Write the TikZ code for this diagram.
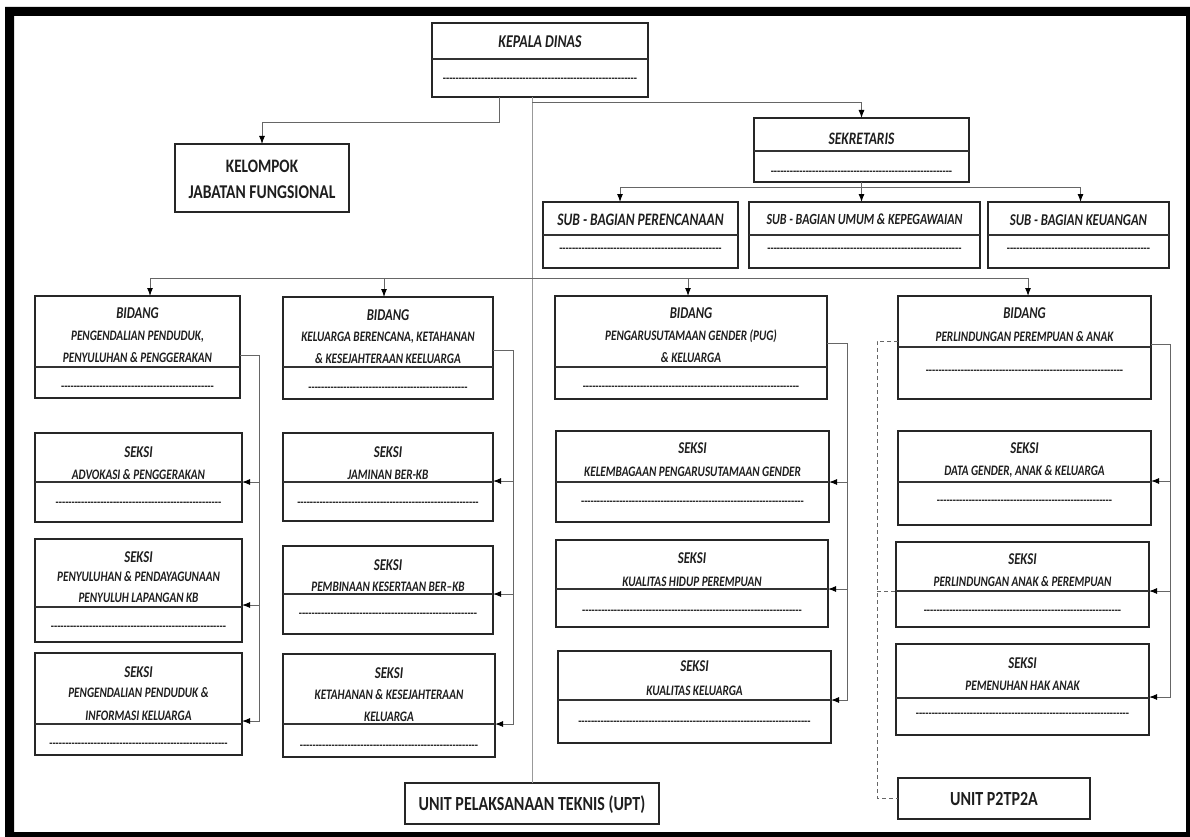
\documentclass[tikz,border=0pt]{standalone}
\usepackage{fontspec}
\usetikzlibrary{arrows.meta}
\newfontfamily\cf{Carlito}[FakeStretch=0.8]
\newfontfamily\cfi{Carlito}[FakeStretch=0.77]
\definecolor{txtc}{HTML}{1E1E1E}
\newcommand\drow[1]{\hbox to #1{\cleaders\hbox{-}\hfill}}
\newcommand\bx[5]{\node[box, minimum width={(#4-#2)*1pt}, minimum height={(#5-#3)*1pt}] (#1) at ({(#2+#4)/2},{(#3+#5)/2}) {};}
\newcommand\dv[2]{\draw[divl] (#1.west |- 0,#2) -- (#1.east |- 0,#2);}
\begin{document}
\begin{tikzpicture}[x=1pt,y=-1pt,
  box/.style={draw=black!85, line width=1.3pt, fill=white, inner sep=0pt, outer sep=0pt, rectangle},
  divl/.style={draw=black!80, line width=1.1pt},
  tx/.style 2 args={font=\cfi\bfseries\itshape\fontsize{#1}{#1}\selectfont, text height=#2pt, text depth=0pt, inner sep=0pt, text=txtc},
  ub/.style 2 args={font=\cf\bfseries\fontsize{#1}{#1}\selectfont, text height=#2pt, text depth=0pt, inner sep=0pt, text=txtc},
  hd/.style={tx={16.5}{10.4}},
  bd/.style={tx={14.5}{9.2}},
  dsh/.style={font=\cf\bfseries\fontsize{13}{13}\selectfont, inner sep=0pt, anchor=base, yshift=-3.6pt, text=black!85},
  conn/.style={draw=black!60, line width=1pt},
  arr/.style={conn, -{Latex[length=8pt,width=6pt,color=black]}},
  conl/.style={draw=black!40, line width=1pt},
  dsl/.style={draw=black!60, line width=1pt, dash pattern=on 4pt off 3pt}]
\useasboundingbox (0,0) rectangle (1190,837);
\fill[black, even odd rule] (5,7) rectangle (1190,837) (14,16) rectangle (1186,832);

% top
\bx{kd}{432}{23}{648}{97} \dv{kd}{59}
\node[tx={18}{11.4}] (kdt) at (kd |- 0,42) {KEPALA DINAS};
\node[dsh] (kdd) at (kd |- 0,79) {\drow{196pt}};

\bx{kjf}{175}{144}{349}{212}
\node[ub={19}{12}] (kjf1) at (kjf |- 0,167) {KELOMPOK};
\node[ub={19.5}{12.3}] (kjf2) at (kjf |- 0,192) {JABATAN FUNGSIONAL};

\bx{sek}{754}{118}{969}{182} \dv{sek}{151}
\node[tx={17.5}{11.2}] (sekt) at (sek |- 0,139) {SEKRETARIS};
\node[dsh] (sekd) at (sek |- 0,172) {\drow{184pt}};

\bx{sb1}{543}{202}{738}{268} \dv{sb1}{235}
\node[tx={17.5}{11.2}] (sb1t) at (sb1 |- 0,220) {SUB - BAGIAN PERENCANAAN};
\node[dsh] (sb1d) at (sb1 |- 0,249) {\drow{164pt}};
\bx{sb2}{749}{202}{980}{268} \dv{sb2}{235}
\node[tx={15.5}{9.9}] (sb2t) at (sb2 |- 0,220) {SUB - BAGIAN UMUM \& KEPEGAWAIAN};
\node[dsh] (sb2d) at (sb2 |- 0,249) {\drow{195pt}};
\bx{sb3}{988}{202}{1169}{268} \dv{sb3}{235}
\node[tx={16.5}{10.5}] (sb3t) at (sb3 |- 0,220) {SUB - BAGIAN KEUANGAN};
\node[dsh] (sb3d) at (sb3 |- 0,249) {\drow{145pt}};

% bidang
\bx{b1}{35}{296}{240}{398} \dv{b1}{367}
\node[hd] (b1t1) at (b1 |- 0,313) {BIDANG};
\node[bd] (b1t2) at (b1 |- 0,336) {PENGENDALIAN PENDUDUK,};
\node[bd] (b1t3) at (b1 |- 0,358) {PENYULUHAN \& PENGGERAKAN};
\node[dsh] (b1d) at (b1 |- 0,387) {\drow{153pt}};

\bx{b2}{283}{297}{493}{399} \dv{b2}{367}
\node[hd] (b2t1) at (b2 |- 0,315) {BIDANG};
\node[bd] (b2t2) at (b2 |- 0,337) {KELUARGA BERENCANA, KETAHANAN};
\node[bd] (b2t3) at (b2 |- 0,359) {\& KESEJAHTERAAN KEELUARGA};
\node[dsh] (b2d) at (b2 |- 0,388) {\drow{161pt}};

\bx{b3}{555}{296}{827}{399} \dv{b3}{367}
\node[hd] (b3t1) at (b3 |- 0,313) {BIDANG};
\node[bd] (b3t2) at (b3 |- 0,336) {PENGARUSUTAMAAN GENDER (PUG)};
\node[bd] (b3t3) at (b3 |- 0,358) {\& KELUARGA};
\node[dsh] (b3d) at (b3 |- 0,387) {\drow{218pt}};

\bx{b4}{898}{296}{1151}{399} \dv{b4}{347}
\node[hd] (b4t1) at (b4 |- 0,313) {BIDANG};
\node[bd] (b4t2) at (b4 |- 0,337) {PERLINDUNGAN PEREMPUAN \& ANAK};
\node[dsh] (b4d) at (b4 |- 0,371) {\drow{200pt}};

% column 1
\bx{s1a}{35}{433}{242}{522} \dv{s1a}{482}
\node[hd] (s1at1) at (s1a |- 0,452) {SEKSI};
\node[bd] (s1at2) at (s1a |- 0,475) {ADVOKASI \& PENGGERAKAN};
\node[dsh] (s1ad) at (s1a |- 0,503) {\drow{167pt}};
\bx{s1b}{35}{539}{242}{642} \dv{s1b}{607}
\node[hd] (s1bt1) at (s1b |- 0,557) {SEKSI};
\node[bd] (s1bt2) at (s1b |- 0,577) {PENYULUHAN \& PENDAYAGUNAAN};
\node[bd] (s1bt3) at (s1b |- 0,598) {PENYULUH LAPANGAN KB};
\node[dsh] (s1bd) at (s1b |- 0,627) {\drow{177pt}};
\bx{s1c}{35}{653}{242}{755} \dv{s1c}{724}
\node[hd] (s1ct1) at (s1c |- 0,672) {SEKSI};
\node[bd] (s1ct2) at (s1c |- 0,693) {PENGENDALIAN PENDUDUK \&};
\node[bd] (s1ct3) at (s1c |- 0,716) {INFORMASI KELUARGA};
\node[dsh] (s1cd) at (s1c |- 0,744) {\drow{179pt}};

% column 2
\bx{s2a}{283}{433}{493}{521} \dv{s2a}{482}
\node[hd] (s2at1) at (s2a |- 0,452) {SEKSI};
\node[bd] (s2at2) at (s2a |- 0,475) {JAMINAN BER-KB};
\node[dsh] (s2ad) at (s2a |- 0,503) {\drow{183pt}};
\bx{s2b}{283}{546}{493}{634} \dv{s2b}{594}
\node[hd] (s2bt1) at (s2b |- 0,565) {SEKSI};
\node[bd] (s2bt2) at (s2b |- 0,587) {PEMBINAAN KESERTAAN BER–KB};
\node[dsh] (s2bd) at (s2b |- 0,614) {\drow{181pt}};
\bx{s2c}{283}{654}{495}{757} \dv{s2c}{724}
\node[hd] (s2ct1) at (s2c |- 0,673) {SEKSI};
\node[bd] (s2ct2) at (s2c |- 0,695) {KETAHANAN \& KESEJAHTERAAN};
\node[bd] (s2ct3) at (s2c |- 0,717) {KELUARGA};
\node[dsh] (s2cd) at (s2c |- 0,746) {\drow{180pt}};

% column 3
\bx{s3a}{556}{431}{829}{522} \dv{s3a}{482}
\node[hd] (s3at1) at (s3a |- 0,448) {SEKSI};
\node[bd] (s3at2) at (s3a |- 0,472) {KELEMBAGAAN PENGARUSUTAMAAN GENDER};
\node[dsh] (s3ad) at (s3a |- 0,502) {\drow{224pt}};
\bx{s3b}{556}{540}{828}{627} \dv{s3b}{589}
\node[hd] (s3bt1) at (s3b |- 0,558) {SEKSI};
\node[bd] (s3bt2) at (s3b |- 0,582) {KUALITAS HIDUP PEREMPUAN};
\node[dsh] (s3bd) at (s3b |- 0,611) {\drow{220pt}};
\bx{s3c}{558}{651}{831}{743} \dv{s3c}{700}
\node[hd] (s3ct1) at (s3c |- 0,666) {SEKSI};
\node[bd] (s3ct2) at (s3c |- 0,691) {KUALITAS KELUARGA};
\node[dsh] (s3cd) at (s3c |- 0,722) {\drow{233pt}};

% column 4
\bx{s4a}{898}{431}{1151}{525} \dv{s4a}{482}
\node[hd] (s4at1) at (s4a |- 0,448) {SEKSI};
\node[bd] (s4at2) at (s4a |- 0,471) {DATA GENDER, ANAK \& KELUARGA};
\node[dsh] (s4ad) at (s4a |- 0,501) {\drow{177pt}};
\bx{s4b}{896}{542}{1149}{627} \dv{s4b}{591}
\node[hd] (s4bt1) at (s4b |- 0,559) {SEKSI};
\node[bd] (s4bt2) at (s4b |- 0,582) {PERLINDUNGAN ANAK \& PEREMPUAN};
\node[dsh] (s4bd) at (s4b |- 0,611) {\drow{198pt}};
\bx{s4c}{896}{644}{1149}{735} \dv{s4c}{698}
\node[hd] (s4ct1) at (s4c |- 0,663) {SEKSI};
\node[bd] (s4ct2) at (s4c |- 0,686) {PEMENUHAN HAK ANAK};
\node[dsh] (s4cd) at (s4c |- 0,714) {\drow{215pt}};

% units
\bx{upt}{405}{783}{659}{824}
\node[ub={20}{12.6}] (uptt) at (upt |- 0,804) {UNIT PELAKSANAAN TEKNIS (UPT)};
\bx{p2}{898}{778}{1090}{819}
\node[ub={20}{12.6}] (p2t) at (p2 |- 0,799) {UNIT P2TP2A};

% connectors
\draw[arr] ([xshift=67pt]kd.south west) -- ++(0,26) -| (kjf.north);
\draw[conl] (kd.south -| upt.north) -- (upt.north);
\coordinate (j1) at (upt.north |- 0,103);
\draw[arr] (j1) -| (sek.north);
\coordinate (j2) at (sek.south |- 0,187);
\draw[conn] (sek.south) -- (j2);
\draw[arr] (j2) -| ([xshift=-20.5pt]sb1.north);
\draw[arr] (j2) -- (j2 |- sb2.north);
\draw[arr] (j2) -| ([xshift=2pt]sb3.north);
\coordinate (j3) at (upt.north |- 0,278);
\draw[arr] (j3) -| ([xshift=12.5pt]b1.north);
\draw[arr] (j3) -| ([xshift=-4pt]b2.north);
\draw[arr] (j3) -| ([xshift=-3pt]b3.north);
\draw[arr] (j3) -| ([xshift=3.5pt]b4.north);

% brackets
\coordinate (c1) at (259,721);
\draw[arr] (b1.east |- 0,355) -| (c1) -- (s1c.east |- c1);
\coordinate (c1a) at (259,482); \draw[arr] (c1a) -- (s1a.east |- c1a);
\coordinate (c1b) at (259,605); \draw[arr] (c1b) -- (s1b.east |- c1b);

\coordinate (c2) at (513,724);
\draw[arr] (b2.east |- 0,350) -| (c2) -- (s2c.east |- c2);
\coordinate (c2a) at (513,481); \draw[arr] (c2a) -- (s2a.east |- c2a);
\coordinate (c2b) at (513,594); \draw[arr] (c2b) -- (s2b.east |- c2b);

\coordinate (c3) at (847,700);
\draw[arr] (b3.east |- 0,343) -| (c3) -- (s3c.east |- c3);
\coordinate (c3a) at (847,482); \draw[arr] (c3a) -- (s3a.east |- c3a);
\coordinate (c3b) at (847,589); \draw[arr] (c3b) -- (s3b.east |- c3b);

\coordinate (c4) at (1170,697);
\draw[arr] (b4.east |- 0,344) -| (c4) -- (s4c.east |- c4);
\coordinate (c4a) at (1170,481); \draw[arr] (c4a) -- (s4a.east |- c4a);
\coordinate (c4b) at (1170,591); \draw[arr] (c4b) -- (s4b.east |- c4b);

% dashed
\coordinate (d1) at (877,798);
\draw[dsl] (b4.west |- 0,341) -| (d1) -- (p2.west |- d1);
\coordinate (d2) at (877,591);
\draw[dsl] (d2) -- (s4b.west |- d2);
\end{tikzpicture}
\end{document}
